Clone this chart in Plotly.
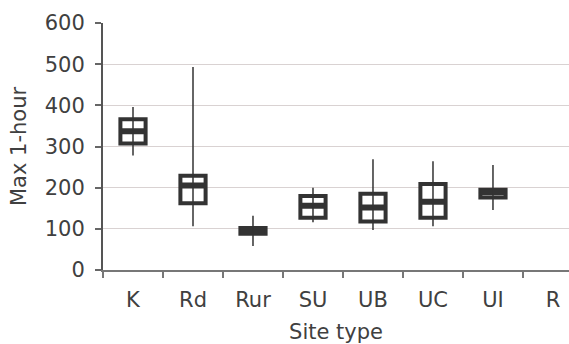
import plotly.graph_objects as go

# Site types along the category axis (R has no measurements)
categories = ["K", "Rd", "Rur", "SU", "UB", "UC", "UI", "R"]

# Summary statistics of the max 1-hour values per site type
site_with_data = ["K", "Rd", "Rur", "SU", "UB", "UC", "UI"]
lower = [278, 106, 58, 116, 97, 106, 146]
q1 = [307, 162, 88, 127, 118, 127, 176]
median = [337, 205, 95, 156, 152, 166, 189]
q3 = [366, 229, 102, 180, 185, 209, 195]
upper = [396, 493, 132, 200, 269, 264, 255]

y_ticks = [0, 100, 200, 300, 400, 500, 600]

INK = "#333333"
TEXT = "#404040"
FONT = "DejaVu Sans"
SIZE = 21

fig = go.Figure()

# Whiskers: thin vertical lines from lower to upper value
fig.add_trace(go.Scatter(
    x=site_with_data,
    y=median,
    mode="markers",
    marker=dict(size=0.1, color="rgba(0,0,0,0)"),
    error_y=dict(
        type="data",
        symmetric=False,
        array=[u - m for u, m in zip(upper, median)],
        arrayminus=[m - l for m, l in zip(median, lower)],
        thickness=1.5,
        width=0,
        color=INK,
    ),
    hoverinfo="skip",
    showlegend=False,
))

# Interquartile boxes with a white interior and heavy outline
fig.add_trace(go.Box(
    x=site_with_data,
    q1=q1,
    median=median,
    q3=q3,
    lowerfence=q1,
    upperfence=q3,
    width=0.42,
    whiskerwidth=0,
    fillcolor="white",
    line=dict(color=INK, width=4),
    showlegend=False,
))

# Heavier median band
fig.add_trace(go.Box(
    x=site_with_data,
    q1=median,
    median=median,
    q3=median,
    lowerfence=median,
    upperfence=median,
    width=0.40,
    whiskerwidth=0,
    fillcolor=INK,
    line=dict(color=INK, width=6),
    showlegend=False,
))

fig.update_layout(
    width=569,
    height=344,
    margin=dict(l=103, r=0, t=23, b=74),
    paper_bgcolor="white",
    plot_bgcolor="white",
    font=dict(family=FONT, size=SIZE, color=TEXT),
    boxmode="overlay",
    showlegend=False,
)

fig.update_xaxes(
    type="category",
    categoryorder="array",
    categoryarray=categories,
    tickvals=categories,
    range=[-0.5, 7.267],
    tickson="boundaries",
    ticks="outside",
    ticklen=6,
    tickwidth=1.5,
    tickcolor="#777777",
    showline=True,
    linecolor="#777777",
    linewidth=2,
    showgrid=False,
    zeroline=False,
    ticklabelstandoff=10,
    title=dict(text="Site type", font=dict(family=FONT, size=SIZE, color=TEXT), standoff=17),
)

fig.update_yaxes(
    range=[0, 600],
    tickvals=y_ticks,
    ticks="outside",
    ticklen=6,
    tickwidth=1.5,
    tickcolor="#666666",
    showline=True,
    linecolor="#555555",
    linewidth=2,
    showgrid=True,
    gridcolor="#d9d2d2",
    gridwidth=1,
    zeroline=False,
    ticklabelstandoff=6,
    title=dict(text="Max 1-hour", font=dict(family=FONT, size=SIZE, color=TEXT), standoff=12),
)

fig.write_html("out.html")
